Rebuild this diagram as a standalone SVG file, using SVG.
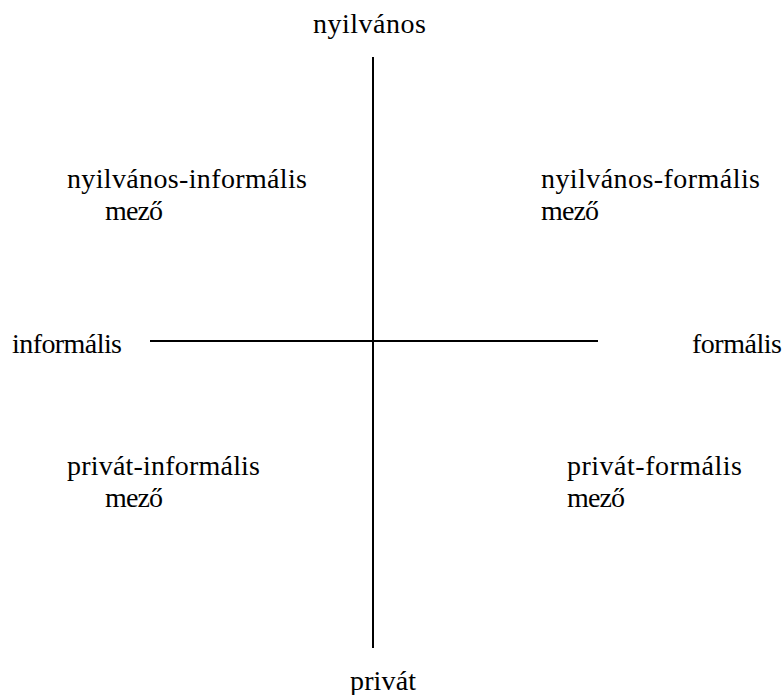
<svg xmlns="http://www.w3.org/2000/svg" width="784" height="695" viewBox="0 0 784 695">
<style>
.t{font-family:'Liberation Serif','Times New Roman',Times,'DejaVu Serif',serif;font-size:28px;fill:#000}
.ax{stroke:#000;stroke-width:2}
</style>
<rect width="784" height="695" fill="#fff"/>
<g id="axes">
<line class="ax" x1="373" y1="57" x2="373" y2="648"/>
<line class="ax" x1="150" y1="341" x2="598" y2="341"/>
</g>
<g id="label-top"><text class="t" x="313" y="33" textLength="113" lengthAdjust="spacing">nyilvános</text></g>
<g id="label-left"><text class="t" x="12" y="353" textLength="110" lengthAdjust="spacing">informális</text></g>
<g id="label-right"><text class="t" x="692" y="353" textLength="90" lengthAdjust="spacing">formális</text></g>
<g id="label-bottom"><text class="t" x="350" y="690" textLength="66" lengthAdjust="spacing">privát</text></g>
<g id="q-tl"><text class="t" x="67" y="188" textLength="240" lengthAdjust="spacing">nyilvános-informális</text><text class="t" x="105" y="220" textLength="58" lengthAdjust="spacing">mező</text></g>
<g id="q-tr"><text class="t" x="541" y="188" textLength="219" lengthAdjust="spacing">nyilvános-formális</text><text class="t" x="541" y="220" textLength="58" lengthAdjust="spacing">mező</text></g>
<g id="q-bl"><text class="t" x="67" y="475" textLength="193" lengthAdjust="spacing">privát-informális</text><text class="t" x="105" y="507" textLength="58" lengthAdjust="spacing">mező</text></g>
<g id="q-br"><text class="t" x="567" y="475" textLength="175" lengthAdjust="spacing">privát-formális</text><text class="t" x="567" y="507" textLength="58" lengthAdjust="spacing">mező</text></g>
</svg>
